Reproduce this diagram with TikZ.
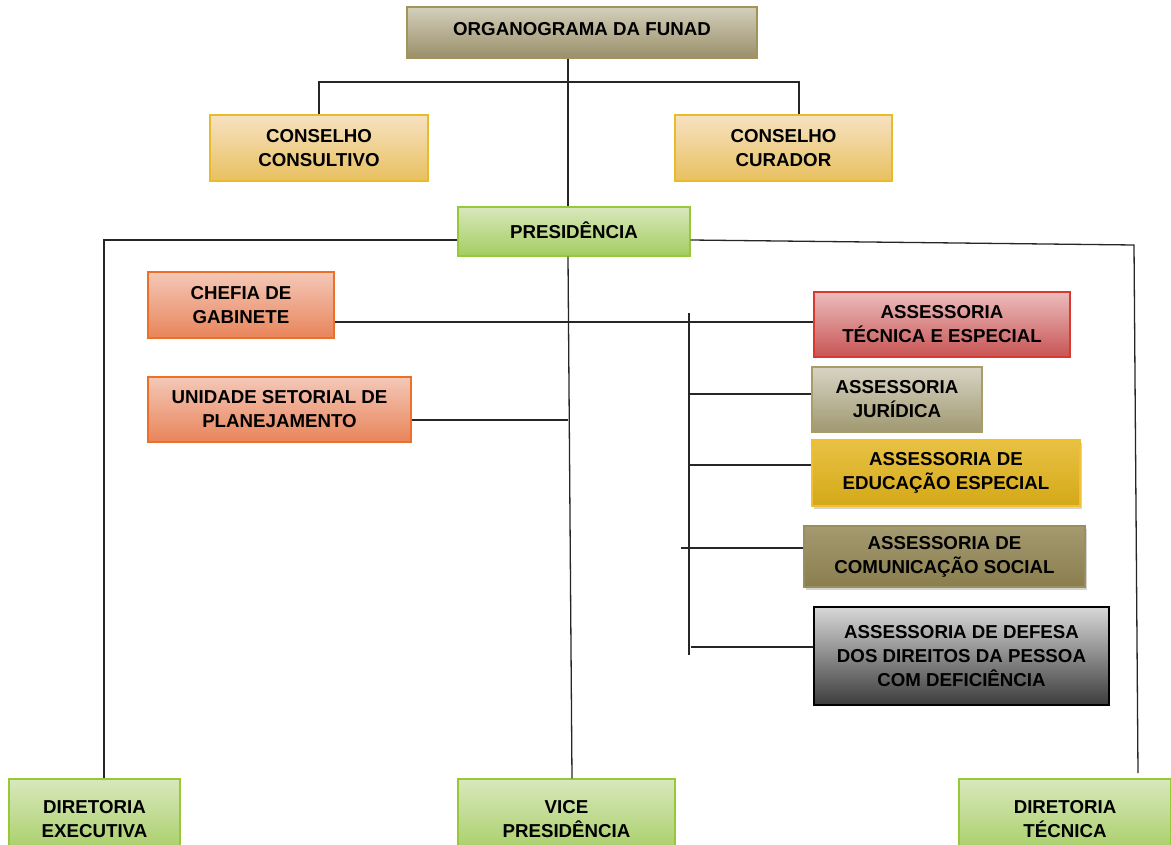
\documentclass[tikz,border=0pt]{standalone}
\usepackage{fontspec}
\setmainfont{Liberation Sans}
\usetikzlibrary{shadows}
\definecolor{orgT}{HTML}{D3CFBA}\definecolor{orgB}{HTML}{9A8F6A}\definecolor{orgD}{HTML}{A0945A}
\definecolor{conT}{HTML}{F6E2C0}\definecolor{conB}{HTML}{E8C060}\definecolor{conD}{HTML}{E6BC2E}
\definecolor{grT}{HTML}{D8E8BC}\definecolor{grB}{HTML}{A4CC60}\definecolor{grD}{HTML}{98C83A}
\definecolor{orT}{HTML}{F4C8B8}\definecolor{orB}{HTML}{E8845A}\definecolor{orD}{HTML}{EC7028}
\definecolor{reT}{HTML}{ECBCBC}\definecolor{reB}{HTML}{C85454}\definecolor{reD}{HTML}{D83A30}
\definecolor{juT}{HTML}{D8D4C4}\definecolor{juB}{HTML}{A09870}\definecolor{juD}{HTML}{A89C68}
\definecolor{edT}{HTML}{E8C244}\definecolor{edB}{HTML}{D4A818}\definecolor{edD}{HTML}{F0C030}
\definecolor{coT}{HTML}{A49A70}\definecolor{coB}{HTML}{8A7E4E}\definecolor{coD}{HTML}{9A8E5E}
\definecolor{deT}{HTML}{D8D8D8}\definecolor{deB}{HTML}{3C3C3C}
\tikzset{
  box/.style={rectangle, inner sep=0pt, align=center, line width=1.2pt,
    font=\bfseries\fontsize{18.7}{24}\selectfont},
  orgbox/.style={box, draw=orgD, top color=orgT, bottom color=orgB},
  conbox/.style={box, draw=conD, top color=conT, bottom color=conB},
  grbox/.style={box, draw=grD, top color=grT, bottom color=grB},
  orbox/.style={box, draw=orD, top color=orT, bottom color=orB},
  rebox/.style={box, draw=reD, top color=reT, bottom color=reB},
  jubox/.style={box, draw=juD, top color=juT, bottom color=juB},
  edbox/.style={box, draw=edD, top color=edT, bottom color=edB, drop shadow={shadow xshift=2pt, shadow yshift=-3pt, opacity=0.35}},
  cobox/.style={box, draw=coD, top color=coT, bottom color=coB, drop shadow={shadow xshift=2pt, shadow yshift=-3pt, opacity=0.35}},
  debox/.style={box, draw=black, top color=deT, bottom color=deB},
  link/.style={draw=black!85, line width=1.3pt}
}
\begin{document}
\begin{tikzpicture}[x=1pt,y=-1pt]
\useasboundingbox (0,0) rectangle (1171,845);
\clip (0,0) rectangle (1171,845);
% nodes
\node[orgbox, minimum width=350pt, minimum height=51pt] (org) at (582,32.5) {\raisebox{7pt}{ORGANOGRAMA DA FUNAD}};
\node[conbox, minimum width=218pt, minimum height=66pt] (cc) at (319,148) {CONSELHO\\CONSULTIVO};
\node[conbox, minimum width=217pt, minimum height=66pt] (cur) at (783.5,148) {CONSELHO\\CURADOR};
\node[grbox, minimum width=232pt, minimum height=49pt] (pres) at (574,231.5) {\raisebox{3pt}{PRESIDÊNCIA}};
\node[orbox, minimum width=186pt, minimum height=66pt] (chef) at (241,305) {CHEFIA DE\\GABINETE};
\node[orbox, minimum width=263pt, minimum height=65pt] (usp) at (279.5,409.5) {UNIDADE SETORIAL DE\\PLANEJAMENTO};
\node[rebox, minimum width=256pt, minimum height=65pt] (ate) at (942,324.5) {ASSESSORIA\\TÉCNICA E ESPECIAL};
\node[jubox, minimum width=170pt, minimum height=65pt] (jur) at (897,399.5) {ASSESSORIA\\JURÍDICA};
\node[edbox, minimum width=268pt, minimum height=66pt] (edu) at (946,473) {ASSESSORIA DE\\EDUCAÇÃO ESPECIAL};
\node[cobox, minimum width=281pt, minimum height=61pt] (com) at (944.5,556.5) {ASSESSORIA DE\\COMUNICAÇÃO SOCIAL};
\node[debox, minimum width=295pt, minimum height=98pt] (def) at (961.5,656) {\raisebox{6pt}{\parbox{290pt}{\centering ASSESSORIA DE DEFESA\\DOS DIREITOS DA PESSOA\\COM DEFICIÊNCIA}}};
\node[grbox, minimum width=171pt, minimum height=80pt] (dexe) at (94.5,819) {\raisebox{6pt}{\parbox{160pt}{\centering DIRETORIA\\EXECUTIVA}}};
\node[grbox, minimum width=217pt, minimum height=80pt] (vice) at (566.5,819) {\raisebox{6pt}{\parbox{200pt}{\centering VICE\\PRESIDÊNCIA}}};
\node[grbox, minimum width=212pt, minimum height=80pt] (dtec) at (1065,819) {\raisebox{6pt}{\parbox{200pt}{\centering DIRETORIA\\TÉCNICA}}};
% bus coordinates
\coordinate (busT) at (568,82);
\coordinate (busR) at (799,82);
\coordinate (pL) at (104,240);
\coordinate (pR) at (1134,245);
\coordinate (pRb) at (1138,773);
\coordinate (usE) at (568,420);
\coordinate (aTop) at (689,313);
\coordinate (aBot) at (689,655);
% connectors
\draw[link] (org.south -| busT) -- (pres.north -| busT);
\draw[link] (cc.north) -- (cc.north |- busT) -- (busR) -- (cur.north -| busR);
\draw[link] (pres.west |- pL) -- (pL) -- (dexe.north -| pL);
\draw[link] (pres.east |- 0,240) -- (pR) -- (pRb);
\draw[link] (pres.south -| busT) -- (vice.north -| 572,0);
\draw[link] (chef.east |- 0,322) -- (ate.west |- 0,322);
\draw[link] (usp.east |- usE) -- (usE);
\draw[link] (aTop) -- (aBot);
\draw[link] (aTop |- 0,394) -- (jur.west |- 0,394);
\draw[link] (aTop |- 0,465) -- (edu.west |- 0,465);
\draw[link] (681,548) -- (com.west |- 0,548);
\draw[link] (691,647) -- (def.west |- 0,647);
\end{tikzpicture}
\end{document}
